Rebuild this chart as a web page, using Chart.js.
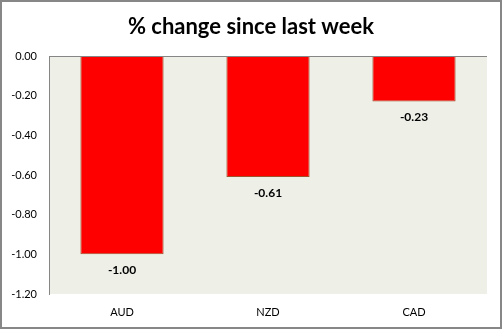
<!DOCTYPE html>
<html>
<head>
<meta charset="utf-8">
<script src="https://cdn.jsdelivr.net/npm/chart.js@4"></script>
<style>
    html, body { margin: 0; padding: 0; background: #ffffff; }
    #box { width: 502px; height: 329px; position: relative; }
</style>
</head>
<body>
<div id="box"><canvas id="weeklyChart" width="502" height="329"></canvas></div>
<script>
const categorias = ["AUD", "NZD", "CAD"];
const variacoes = [-1.00, -0.61, -0.23];
const titulo = "% change since last week";
const yMin = -1.2;
const yMax = 0;
const yPasso = 0.2;

const fonte = "Lato, 'Open Sans', sans-serif";

const fundoPlot = {
    id: "fundoPlot",
    beforeDraw(chart) {
        const { ctx, chartArea: a } = chart;
        ctx.save();
        ctx.fillStyle = "#eef0e8";
        ctx.fillRect(a.left, a.top, a.right - a.left, a.bottom - a.top);
        ctx.restore();
    },
    afterDraw(chart) {
        const { ctx, chartArea: a } = chart;
        ctx.save();
        // linha do zero
        ctx.strokeStyle = "#868686";
        ctx.lineWidth = 1;
        ctx.beginPath();
        ctx.moveTo(a.left, a.top + 0.5);
        ctx.lineTo(a.right, a.top + 0.5);
        ctx.stroke();

        // rotulos das barras
        const meta = chart.getDatasetMeta(0);
        ctx.fillStyle = "#000000";
        ctx.font = "bold 12px " + fonte;
        ctx.textAlign = "center";
        ctx.textBaseline = "middle";
        meta.data.forEach((barra, i) => {
            ctx.fillText(variacoes[i].toFixed(2), barra.x, barra.y + 16);
        });

        // titulo
        ctx.font = "bold 22px " + fonte;
        ctx.fillText(titulo, 251, 27);

        // moldura
        ctx.strokeStyle = "#878787";
        ctx.lineWidth = 2;
        ctx.strokeRect(1, 1, 500, 327);
        ctx.restore();
    }
};

new Chart(document.getElementById("weeklyChart").getContext("2d"), {
    type: "bar",
    data: {
        labels: categorias,
        datasets: [
            {
                data: variacoes,
                backgroundColor: "#ff0000",
                borderColor: "#a0522d",
                borderWidth: 1,
                categoryPercentage: 1,
                barPercentage: 0.57
            }
        ]
    },
    options: {
        responsive: false,
        animation: false,
        layout: { padding: { top: 56, left: 0, right: 15, bottom: 0 } },
        plugins: {
            legend: { display: false },
            title: { display: false },
            tooltip: { enabled: false }
        },
        scales: {
            x: {
                grid: { display: false, drawTicks: false },
                border: { display: false },
                ticks: {
                    color: "#000000",
                    font: { family: fonte, size: 11 },
                    padding: 12
                },
                afterFit(scale) { scale.height = 35; }
            },
            y: {
                min: yMin,
                max: yMax,
                grid: { display: false, drawTicks: false },
                border: { display: true, color: "#868686", width: 1 },
                ticks: {
                    stepSize: yPasso,
                    color: "#000000",
                    font: { family: fonte, size: 11 },
                    padding: 12,
                    callback: v => v.toFixed(2)
                },
                afterFit(scale) { scale.width = 49; }
            }
        }
    },
    plugins: [fundoPlot]
});
</script>
</body>
</html>
